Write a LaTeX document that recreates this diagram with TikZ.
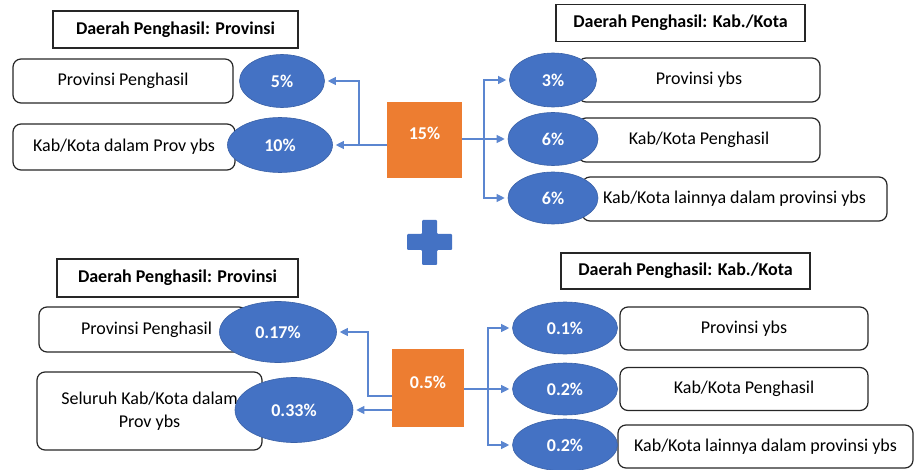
\documentclass[tikz,border=0pt]{standalone}
\usepackage{fontspec}
\setmainfont{Carlito}
\usetikzlibrary{shapes.geometric,arrows.meta}
\definecolor{okblue}{HTML}{4472C4}
\definecolor{okorange}{HTML}{ED7D31}
\definecolor{lineblue}{HTML}{5B86D0}
\begin{document}
\begin{tikzpicture}[x=1pt,y=-1pt,font=\fontsize{18}{23}\selectfont,
	hdr/.style={draw=black!85, line width=1.2pt, minimum height=37pt, inner sep=0pt, font=\fontsize{18}{23}\selectfont\bfseries},
	txtbox/.style={draw=black!85, line width=1.2pt, rounded corners=8pt, minimum height=44pt, inner sep=0pt, align=center},
	pct/.style={ellipse, fill=okblue, draw=okblue!85!black, line width=0.6pt, inner sep=0pt, text=white, font=\fontsize{18}{23}\selectfont\bfseries},
	share/.style={fill=okorange, inner sep=0pt},
	sharetxt/.style={text=white, font=\fontsize{18}{23}\selectfont\bfseries},
	arr/.style={draw=lineblue, line width=1.1pt, -{Triangle[length=8pt,width=8pt]}, shorten >=3pt}]
	\useasboundingbox (0,0) rectangle (915,470);

	% atas: bagi hasil 15%
	\node[hdr, minimum width=245pt] (hdrProv1) at (175.5,29.5) {Daerah Penghasil: Provinsi};
	\node[hdr, minimum width=249pt] (hdrKab1) at (680.5,23) {Daerah Penghasil: Kab./Kota};
	\node[txtbox, minimum width=220pt] (provPeng1) at (123,81) {Provinsi Penghasil};
	\node[txtbox, minimum width=222pt, minimum height=46pt] (kabProv1) at (124,147) {Kab/Kota dalam Prov ybs};
	\foreach \n/\y/\t in {provYbs1/80/{Provinsi ybs}, kabPeng1/140/{Kab/Kota Penghasil}}
		\node[txtbox, minimum width=242pt] (\n) at (699,\y) {\t};
	\node[txtbox, minimum width=305pt] (kabLain1) at (734.5,199) {Kab/Kota lainnya dalam provinsi ybs};
	\node[pct, minimum width=85pt, minimum height=53pt] (pP5) at (282,81) {5\%};
	\node[pct, minimum width=105pt, minimum height=55pt] (pK10) at (280,145) {10\%};
	\node[pct, minimum width=87pt, minimum height=54pt] (pR3) at (553,80) {3\%};
	\node[pct, minimum width=90pt, minimum height=53pt] (pR6a) at (553,139) {6\%};
	\node[pct, minimum width=90pt, minimum height=52pt] (pR6b) at (553,198) {6\%};
	\node[share, minimum width=75pt, minimum height=76pt,
		label={[sharetxt, yshift=7pt]center:15\%}] (share1) at (424.5,140) {};

	\coordinate (jl1) at (359,145);
	\coordinate (jr1) at (484,139);
	\draw[arr] (share1.west |- pK10.east) -- (pK10.east);
	\draw[arr] (jl1) |- (pP5.east);
	\draw[arr] (share1.east |- pR6a.west) -- (pR6a.west);
	\draw[arr] (jr1) |- (pR3.west);
	\draw[arr] (jr1) |- (pR6b.west);

	% tanda tambah
	\fill[okblue, rounded corners=1pt] (422,220) -- (437,220) -- (437,234) -- (452,234) -- (452,250) -- (437,250)
		-- (437,265) -- (422,265) -- (422,250) -- (407,250) -- (407,234) -- (422,234) -- cycle;

	% bawah: bagi hasil 0.5%
	\node[hdr, minimum width=241pt, minimum height=38pt] (hdrProv2) at (177.5,278) {Daerah Penghasil: Provinsi};
	\node[hdr, minimum width=249pt, minimum height=36pt] (hdrKab2) at (685.5,271) {Daerah Penghasil: Kab./Kota};
	\node[txtbox, minimum width=208pt, minimum height=45pt] (provPeng2) at (143,329.5) {\hspace*{7pt}Provinsi Penghasil};
	\node[txtbox, minimum width=225pt, minimum height=78pt] (kabProv2) at (149.5,411) {Seluruh Kab/Kota dalam\\Prov ybs};
	\foreach \n/\y/\t in {provYbs2/328.5/{Provinsi ybs}, kabPeng2/389/{Kab/Kota Penghasil}}
		\node[txtbox, minimum width=248pt, minimum height=43pt] (\n) at (744,\y) {\t};
	\node[txtbox, minimum width=295pt, minimum height=43pt] (kabLain2) at (765.5,446.5) {Kab/Kota lainnya dalam provinsi ybs};
	\node[pct, minimum width=117pt, minimum height=61pt] (pP17) at (278,332) {0.17\%};
	\node[pct, minimum width=118pt, minimum height=65pt] (pK33) at (294,410) {0.33\%};
	\foreach \n/\y/\t in {pR01/328/0.1\%, pR02a/389/0.2\%, pR02b/445/0.2\%}
		\node[pct, minimum width=105pt, minimum height=52pt] (\n) at (565,\y) {\t};
	\node[share, minimum width=72pt, minimum height=78pt,
		label={[sharetxt, yshift=6pt]center:0.5\%}] (share2) at (428,388) {};

	\coordinate (jl2) at (368,396);
	\coordinate (jr2) at (488,389);
	\draw[arr] (share2.west |- jl2) -- (jl2) |- (pP17.east);
	\draw[arr] (share2.west |- pK33.east) -- (pK33.east);
	\draw[arr] (share2.east |- pR02a.west) -- (pR02a.west);
	\draw[arr] (jr2) |- (pR01.west);
	\draw[arr] (jr2) |- (pR02b.west);
\end{tikzpicture}
\end{document}
